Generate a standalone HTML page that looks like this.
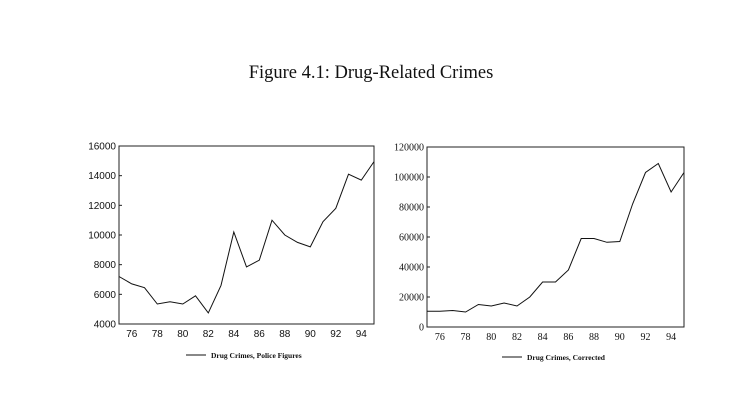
<!DOCTYPE html>
<html><head><meta charset="utf-8"><style>
body{margin:0;background:#fff;}
svg text{fill:#111;}
</style></head><body>
<svg width="751" height="411" viewBox="0 0 751 411" xmlns="http://www.w3.org/2000/svg">
<text x="371" y="78" text-anchor="middle" font-family="Liberation Serif, serif" font-size="18.5">Figure 4.1: Drug-Related Crimes</text>
<g id="c1"></g>
<g id="c2"></g>
</svg>
<script>
const years=[75,76,77,78,79,80,81,82,83,84,85,86,87,88,89,90,91,92,93,94,95];
const policeValues=[7200,6700,6450,5350,5500,5350,5900,4750,6600,10200,7850,8300,11000,10000,9500,9200,10900,11800,14100,13700,14950];
const correctedValues=[10500,10500,11000,10000,15000,14000,16000,14000,20000,30000,30000,38000,59000,59000,56500,57000,82000,103000,109000,90000,103000];
const xTickLabels=[76,78,80,82,84,86,88,90,92,94];
const policeYTicks=[4000,6000,8000,10000,12000,14000,16000];
const correctedYTicks=[0,20000,40000,60000,80000,100000,120000];
const NS='http://www.w3.org/2000/svg';
function mk(p,t,a){const e=document.createElementNS(NS,t);for(const k in a)e.setAttribute(k,a[k]);p.appendChild(e);return e;}
function chart(g,box,vals,yt,legend,lx,ly,yfont,name){
 const [x0,x1,y0,y1]=box;const ymin=yt[0],ymax=yt[yt.length-1];
 const X=v=>x0+(v-75)/20*(x1-x0);const Y=v=>y1-(v-ymin)/(ymax-ymin)*(y1-y0);
 const r=mk(g,'rect',{x:x0,y:y0,width:x1-x0,height:y1-y0,fill:'none',stroke:'#222','stroke-width':1});
 
 
 yt.forEach(t=>{const tx=mk(g,'text',{x:x0-3,y:Y(t)+3.5,'text-anchor':'end','font-family':yfont,'font-size':10});tx.textContent=t;
  
  
  mk(g,'line',{x1:x0,x2:x0+3,y1:Y(t),y2:Y(t),stroke:'#222'});});
 xTickLabels.forEach(t=>{const tx=mk(g,'text',{x:X(t),y:y1+13,'text-anchor':'middle','font-family':yfont,'font-size':10});tx.textContent=t;
  
  });
 const pts=vals.map((v,i)=>X(years[i]).toFixed(1)+','+Y(v).toFixed(1)).join(' ');
 const pl=mk(g,'polyline',{points:pts,fill:'none',stroke:'#111','stroke-width':1});
 
 
 mk(g,'line',{x1:lx,x2:lx+20,y1:ly-3,y2:ly-3,stroke:'#111'});
 const lt=mk(g,'text',{x:lx+25,y:ly,'font-family':'Liberation Serif, serif','font-size':7.5,'font-weight':'bold'});lt.textContent=legend;
 
 
}
chart(document.getElementById('c1'),[119,374,146,324],policeValues,policeYTicks,'Drug Crimes, Police Figures',186,358,'Liberation Sans, sans-serif','police');
chart(document.getElementById('c2'),[427,684,147,327],correctedValues,correctedYTicks,'Drug Crimes, Corrected',502,360,'Liberation Serif, serif','corrected');
</script>
</body></html>
